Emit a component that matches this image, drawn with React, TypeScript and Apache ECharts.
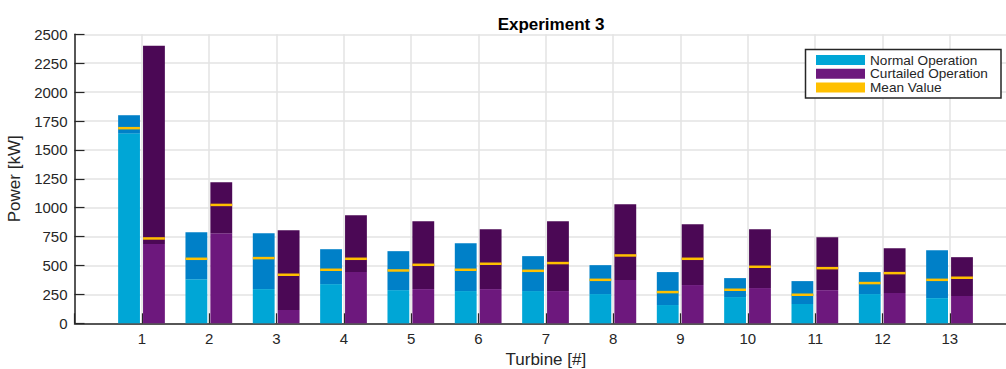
import React, { useEffect, useRef } from "react";
import * as echarts from "echarts";

const turbines = [1, 2, 3, 4, 5, 6, 7, 8, 9, 10, 11, 12, 13];
const normalLow = [1643, 382, 296, 339, 287, 279, 279, 253, 158, 227, 167, 253, 218];
const normalHigh = [1800, 788, 780, 641, 624, 693, 581, 503, 443, 391, 365, 443, 633];
const normalMean = [1688, 558, 564, 463, 457, 463, 454, 376, 270, 290, 247, 348, 376];
const curtailedLow = [685, 780, 115, 443, 296, 296, 279, 374, 331, 305, 287, 262, 236];
const curtailedHigh = [2400, 1220, 805, 935, 883, 814, 883, 1030, 857, 814, 745, 650, 572];
const curtailedMean = [734, 1024, 420, 558, 506, 515, 521, 587, 558, 489, 477, 434, 394];
const legendLabels = ["Normal Operation", "Curtailed Operation", "Mean Value"];

const FONT = "'Liberation Sans', Arial, Helvetica, sans-serif";
const TXT = "#262626";
const C = {
  lightBlue: "#00A6D6",
  darkBlue: "#0080C8",
  lightPurple: "#6D187D",
  darkPurple: "#4B0855",
  yellow: "#FFC000",
};

function makeRender(x0: number, x1: number, light: string, dark: string) {
  return (params: any, api: any) => {
    const t = api.value(0);
    const low = api.value(1);
    const high = api.value(2);
    const mean = api.value(3);
    const pL = api.coord([t + x0, 0]);
    const pR = api.coord([t + x1, 0]);
    const yLow = api.coord([t, low])[1];
    const yHigh = api.coord([t, high])[1];
    const yMean = api.coord([t, mean])[1];
    const w = pR[0] - pL[0];
    return {
      type: "group",
      children: [
        { type: "rect", shape: { x: pL[0], y: yLow, width: w, height: pL[1] - yLow }, style: { fill: light } },
        { type: "rect", shape: { x: pL[0], y: yHigh, width: w, height: yLow - yHigh }, style: { fill: dark } },
        { type: "rect", shape: { x: pL[0], y: yMean - 1.25, width: w, height: 2.5 }, style: { fill: C.yellow } },
      ],
    };
  };
}

export default function App() {
  const ref = useRef<HTMLDivElement>(null);
  useEffect(() => {
    if (!ref.current) return;
    const chart = echarts.init(ref.current, undefined, { renderer: "svg" });
    const normalData = turbines.map((t, i) => [t, normalLow[i], normalHigh[i], normalMean[i]]);
    const curtData = turbines.map((t, i) => [t, curtailedLow[i], curtailedHigh[i], curtailedMean[i]]);
    const legendColors = [C.lightBlue, C.lightPurple, C.yellow];
    const lx = 805.5, ly = 49.5;
    const legendElements: any[] = [
      {
        type: "rect",
        z: 100,
        shape: { x: lx, y: ly, width: 195.5, height: 48.5 },
        style: { fill: "#ffffff", stroke: TXT, lineWidth: 1.5 },
      },
    ];
    legendLabels.forEach((lab, i) => {
      const cy = 60 + i * 13.7;
      legendElements.push({
        type: "rect",
        z: 101,
        shape: { x: 816, y: cy - 5, width: 49, height: 10 },
        style: { fill: legendColors[i] },
      });
      legendElements.push({
        type: "text",
        z: 101,
        x: 870,
        y: cy,
        style: {
          text: lab,
          fill: TXT,
          fontFamily: FONT,
          fontSize: 13.6,
          lineHeight: 13.4,
          verticalAlign: "middle",
          align: "left",
        },
      });
    });
    chart.setOption({
      animation: false,
      backgroundColor: "#fff",
      title: {
        text: "Experiment 3",
        left: 546,
        top: 11,
        textAlign: "center",
        textStyle: { fontFamily: FONT, fontSize: 17, fontWeight: "bold", color: "#000" },
      },
      grid: { left: 74.5, right: 12.8, top: 34.3, bottom: 45.7, containLabel: false, outerBoundsMode: "none" },
      xAxis: {
        type: "value",
        min: 0,
        max: 14,
        interval: 1,
        name: "Turbine [#]",
        nameLocation: "middle",
        nameGap: 23,
        nameTextStyle: { fontFamily: FONT, fontSize: 17, color: TXT },
        axisLine: { show: true, onZero: false, lineStyle: { color: TXT, width: 1.5 } },
        axisTick: { show: true, inside: true, length: 10, lineStyle: { color: TXT, width: 1.2 } },
        axisLabel: {
          margin: 8,
          fontFamily: FONT,
          fontSize: 15,
          color: TXT,
          formatter: (v: number) => (v >= 1 && v <= 13 ? String(v) : ""),
        },
        splitLine: { show: true, lineStyle: { color: "#E3E3E3", width: 1.5 } },
      },
      yAxis: {
        type: "value",
        min: 0,
        max: 2500,
        interval: 250,
        name: "Power [kW]",
        nameLocation: "middle",
        nameGap: 47,
        nameTextStyle: { fontFamily: FONT, fontSize: 17, color: TXT },
        axisLine: { show: true, lineStyle: { color: TXT, width: 1.5 } },
        axisTick: { show: true, inside: true, length: 10, lineStyle: { color: TXT, width: 1.2 } },
        axisLabel: { margin: 7, fontFamily: FONT, fontSize: 15, color: TXT, formatter: (v: number) => String(v) },
        splitLine: { show: true, lineStyle: { color: "#E3E3E3", width: 1.5 } },
      },
      series: [
        {
          type: "custom",
          name: "Normal Operation",
          renderItem: makeRender(-0.352, -0.028, C.lightBlue, C.darkBlue),
          data: normalData,
          encode: { x: 0, y: [1, 2, 3] },
          z: 3,
        },
        {
          type: "custom",
          name: "Curtailed Operation",
          renderItem: makeRender(0.018, 0.342, C.lightPurple, C.darkPurple),
          data: curtData,
          encode: { x: 0, y: [1, 2, 3] },
          z: 3,
        },
      ],
      graphic: { elements: legendElements },
    });
    return () => chart.dispose();
  }, []);
  return (
    <div style={{ position: "fixed", left: 0, top: 0, width: 1006, height: 369, overflow: "hidden", background: "#fff" }}>
      <div ref={ref} style={{ width: 1030, height: 369 }} />
    </div>
  );
}
